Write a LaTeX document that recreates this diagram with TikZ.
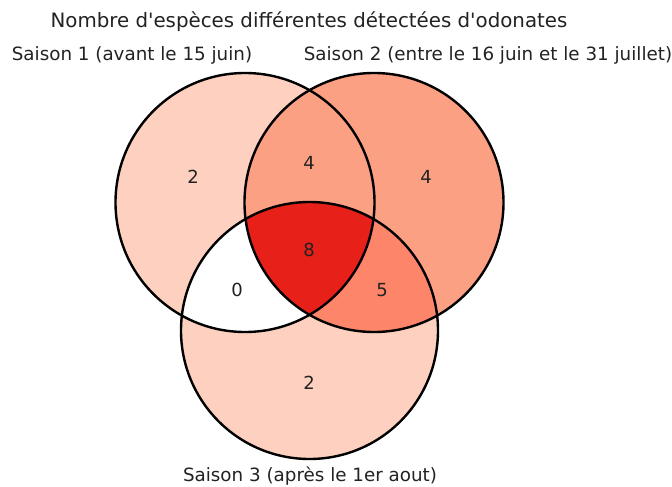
\documentclass[tikz,border=0pt]{standalone}
\usepackage{fontspec}
\newfontfamily\dv{DejaVu Sans}
\definecolor{lightred}{HTML}{FDD0C0}
\definecolor{midred}{HTML}{FCA084}
\definecolor{salmonred}{HTML}{FC856A}
\definecolor{deepred}{HTML}{E8201A}
\definecolor{txt}{HTML}{222222}
\begin{document}
\begin{tikzpicture}[x=1pt,y=-1pt,
  lbl/.style={font=\dv\fontsize{18.3}{21}\selectfont, inner sep=0pt, text=txt},
  ttl/.style={font=\dv\fontsize{19.8}{23}\selectfont, inner sep=0pt, text=txt},
  num/.style={font=\dv\fontsize{18}{21}\selectfont, inner sep=0pt, text=txt},
  ring/.style={draw=black, line width=2.4pt}]
\useasboundingbox (0,0) rectangle (672,487);
\coordinate (c1) at (245,202.5);
\coordinate (c2) at (374,202.5);
\coordinate (c3) at (309.5,330.5);
\def\ra{129.5pt}
\def\rc{128.5pt}
% fills
\fill[lightred] (c1) circle[radius=\ra];
\fill[lightred] (c3) circle[radius=\rc];
\begin{scope}
  \clip (c1) circle[radius=\ra];
  \fill[white] (c3) circle[radius=\rc];
\end{scope}
\fill[midred] (c2) circle[radius=\ra];
\begin{scope}
  \clip (c2) circle[radius=\ra];
  \fill[salmonred] (c3) circle[radius=\rc];
\end{scope}
\begin{scope}
  \clip (c1) circle[radius=\ra];
  \clip (c2) circle[radius=\ra];
  \fill[deepred] (c3) circle[radius=\rc];
\end{scope}
% outlines
\draw[ring] (c1) circle[radius=\ra];
\draw[ring] (c2) circle[radius=\ra];
\draw[ring] (c3) circle[radius=\rc];
% numbers
\node[num] (n100) at (193,177) {2};
\node[num] (n010) at (426,177) {4};
\node[num] (n110) at (309,163) {4};
\node[num] (n111) at (309,250) {8};
\node[num] (n101) at (237,290) {0};
\node[num] (n011) at (382,290) {5};
\node[num] (n001) at (309,383) {2};
% labels
\node[ttl] (title) at (309,22) {Nombre d'espèces différentes détectées d'odonates};
\node[lbl] (s1) at (132,55) {Saison 1 (avant le 15 juin)};
\node[lbl] (s2) at (488,55) {Saison 2 (entre le 16 juin et le 31 juillet)};
\node[lbl] (s3) at (310,476) {Saison 3 (après le 1er aout)};
\end{tikzpicture}
\end{document}
